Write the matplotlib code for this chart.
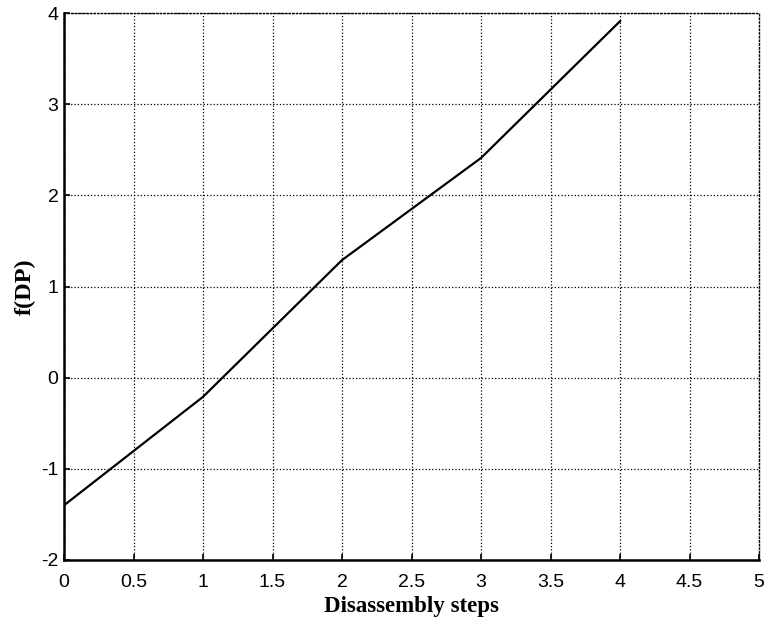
import matplotlib.pyplot as plt

plt.rcParams["axes.unicode_minus"] = False

# data
steps = [0, 1, 2, 3, 4]
f_dp = [-1.4, -0.21, 1.29, 2.41, 3.91]
xticks = [0, 0.5, 1, 1.5, 2, 2.5, 3, 3.5, 4, 4.5, 5]
xticklabels = ["0", "0.5", "1", "1.5", "2", "2.5", "3", "3.5", "4", "4.5", "5"]
yticks = [-2, -1, 0, 1, 2, 3, 4]

fig = plt.figure(figsize=(7.64, 6.29), dpi=100)
ax = fig.add_axes([0.0838, 0.1097, 0.9097, 0.8696])

ax.plot(steps, f_dp, color="black", linewidth=1.6)

ax.set_xlim(0, 5)
ax.set_ylim(-2, 4)
ax.set_xticks(xticks)
ax.set_xticklabels(xticklabels)
ax.set_yticks(yticks)
ax.grid(True, linestyle=":", color="black", linewidth=0.9)

ax.tick_params(direction="in", length=4, width=1.2, labelsize=14,
               labelfontfamily="Liberation Sans")
ax.tick_params(axis="x", pad=10)
ax.tick_params(axis="y", pad=4)

ax.spines["left"].set_linewidth(1.8)
ax.spines["bottom"].set_linewidth(1.8)
for side in ["top", "right"]:
    ax.spines[side].set_linestyle(":")
    ax.spines[side].set_linewidth(1.0)

ax.set_xlabel("Disassembly steps", family="Liberation Serif", fontweight="bold",
              fontsize=16.5, labelpad=4)
ax.set_ylabel("f(DP)", family="Liberation Serif", fontweight="bold",
              fontsize=17.5, labelpad=4)

fig.savefig("out.png", dpi=100)
